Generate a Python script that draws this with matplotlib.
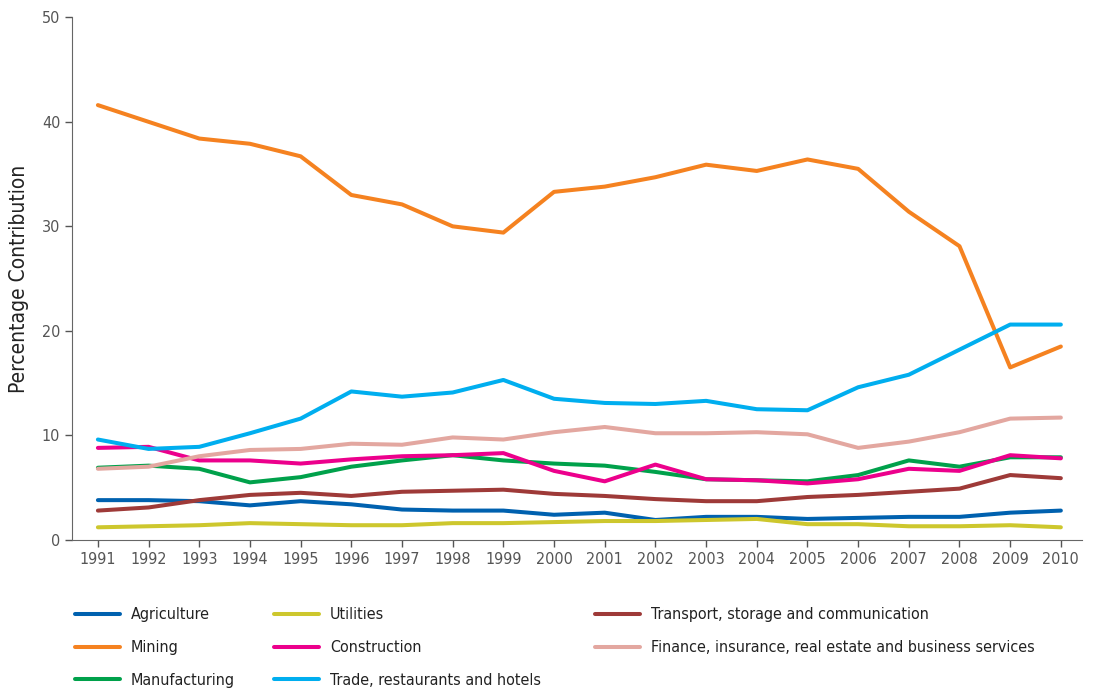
import matplotlib as mpl
mpl.use("Agg")
import matplotlib.pyplot as plt
import numpy as np

plt.rcParams['font.family'] = ['DejaVu Sans']
plt.rcParams['font.stretch'] = 'condensed'

years = np.arange(1991, 2011)

agriculture = [3.8, 3.8, 3.7, 3.3, 3.7, 3.4, 2.9, 2.8, 2.8, 2.4,
               2.6, 1.9, 2.2, 2.2, 2.0, 2.1, 2.2, 2.2, 2.6, 2.8]
mining = [41.6, 40.0, 38.4, 37.9, 36.7, 33.0, 32.1, 30.0, 29.4, 33.3,
          33.8, 34.7, 35.9, 35.3, 36.4, 35.5, 31.4, 28.1, 16.5, 18.5]
manufacturing = [6.9, 7.1, 6.8, 5.5, 6.0, 7.0, 7.6, 8.1, 7.6, 7.3,
                 7.1, 6.5, 5.8, 5.7, 5.6, 6.2, 7.6, 7.0, 7.9, 7.9]
utilities = [1.2, 1.3, 1.4, 1.6, 1.5, 1.4, 1.4, 1.6, 1.6, 1.7,
             1.8, 1.8, 1.9, 2.0, 1.5, 1.5, 1.3, 1.3, 1.4, 1.2]
construction = [8.8, 8.9, 7.6, 7.6, 7.3, 7.7, 8.0, 8.1, 8.3, 6.6,
                5.6, 7.2, 5.8, 5.7, 5.4, 5.8, 6.8, 6.6, 8.1, 7.8]
trade = [9.6, 8.7, 8.9, 10.2, 11.6, 14.2, 13.7, 14.1, 15.3, 13.5,
         13.1, 13.0, 13.3, 12.5, 12.4, 14.6, 15.8, 18.2, 20.6, 20.6]
transport = [2.8, 3.1, 3.8, 4.3, 4.5, 4.2, 4.6, 4.7, 4.8, 4.4,
             4.2, 3.9, 3.7, 3.7, 4.1, 4.3, 4.6, 4.9, 6.2, 5.9]
finance = [6.8, 7.0, 8.0, 8.6, 8.7, 9.2, 9.1, 9.8, 9.6, 10.3,
           10.8, 10.2, 10.2, 10.3, 10.1, 8.8, 9.4, 10.3, 11.6, 11.7]

series = [
    ("Agriculture", agriculture, "#0061AF"),
    ("Mining", mining, "#F58220"),
    ("Manufacturing", manufacturing, "#00A14B"),
    ("Utilities", utilities, "#CDC72D"),
    ("Construction", construction, "#EC008C"),
    ("Trade, restaurants and hotels", trade, "#00AEEF"),
    ("Transport, storage and communication", transport, "#9E3A38"),
    ("Finance, insurance, real estate and business services", finance, "#E3A7A0"),
]

fig = plt.figure(figsize=(10.95, 6.93), dpi=100)
ax = fig.add_axes([0.0658, 0.221, 0.922, 0.754])

# Draw the lines
lines = []
for name, vals, col in series:
    ln, = ax.plot(years, vals, color=col, lw=2.9, label=name, solid_capstyle='round')
    lines.append(ln)

ax.set_xlim(1990.49, 2010.41)
ax.set_ylim(0, 50)
ax.set_xticks(years)
ax.set_yticks([0, 10, 20, 30, 40, 50])
ax.tick_params(colors='#555555', labelsize=11.5, length=5, width=1)
ax.tick_params(axis='x', pad=4)
for s in ['top', 'right']:
    ax.spines[s].set_visible(False)
for s in ['left', 'bottom']:
    ax.spines[s].set_color('#666666')
ax.set_ylabel("Percentage Contribution", fontsize=15, color='#222222', labelpad=9)

# one legend per column so the columns sit where the original puts them
for x0, grp in [(0.0626, lines[0:3]), (0.2443, lines[3:6]), (0.5374, lines[6:8])]:
    leg = fig.legend(handles=grp, loc='upper left', bbox_to_anchor=(x0, 0.133),
                     frameon=False, fontsize=11.5, handlelength=2.82,
                     handletextpad=0.69, labelspacing=1.12, borderaxespad=0)
    for t in leg.get_texts():
        t.set_color('#222222')

fig.savefig("out.png", dpi=100)
